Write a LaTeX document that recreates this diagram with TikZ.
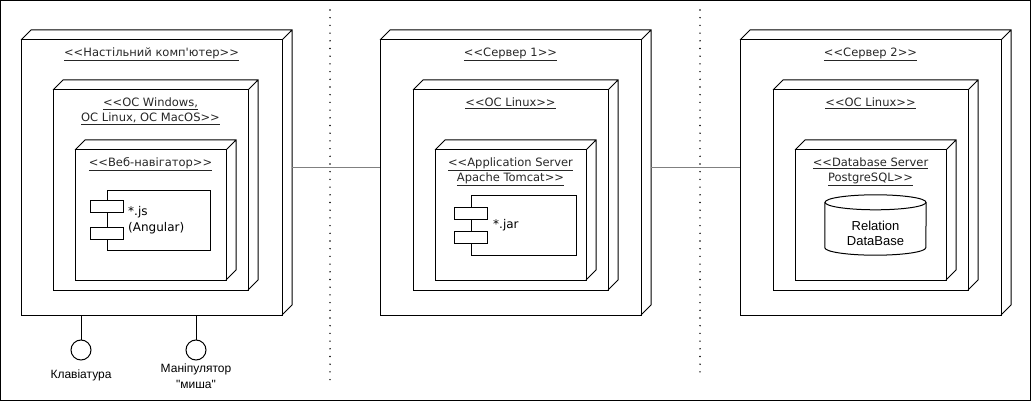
\documentclass[tikz,border=0pt]{standalone}
\usepackage{fontspec}
\setmainfont{Liberation Sans}[Ligatures=TeXOff]
\newfontfamily\stfont{DejaVu Sans}[Ligatures=TeXOff]
\usetikzlibrary{positioning,calc}

\tikzset{
  devbox/.style={draw, line width=1pt, inner sep=0pt, outer sep=0pt},
  title/.style={inner sep=0pt, align=center, text=black!85,
    font=\stfont\fontsize{11.5}{15}\selectfont},
  plain/.style={inner sep=0pt, align=left, font=\fontsize{12}{15.5}\selectfont},
  filetext/.style={inner sep=0pt, align=left, font=\stfont\fontsize{12}{16}\selectfont},
  link/.style={line width=1pt, draw=black!50},
  sepline/.style={line width=1.6pt, dash pattern=on 0pt off 7.7pt, line cap=round},
}
% back edges of a 3D node box
\newcommand{\depthlines}[1]{%
  \draw[line width=1pt] (#1.north west) -- ++(10,-10) -| ($(#1.south east)+(10,-10)$) -- (#1.south east)
    (#1.north east) -- ++(10,-10);}
\newcommand{\ster}[1]{\underline{#1}}

\begin{document}
\begin{tikzpicture}[x=1pt, y=-1pt]
  \useasboundingbox (0,0) rectangle (1031,401);
  \draw[line width=1pt] (0.5,0.5) rectangle (1030.5,400.5);

  % desktop
  \node[devbox, minimum width=261pt, minimum height=275pt] (pc) at (151.5,177.5) {};
  \depthlines{pc}
  \node[title, below=7.5pt of pc.north] (pctitle) {\ster{<<Настільний комп'ютер>>}};

  \node[devbox, minimum width=195pt, minimum height=200pt] (pcos) at (150.5,190) {};
  \depthlines{pcos}
  \node[title, below=7.5pt of pcos.north] (pcostitle) {\ster{<<OC Windows,}\\\ster{OC Linux, OC MacOS>>}};

  \node[devbox, minimum width=151pt, minimum height=130pt] (browser) at (150.5,215) {};
  \depthlines{browser}
  \node[title, below=7.5pt of browser.north] (browsertitle) {\ster{<<Веб-навігатор>>}};

  \node[devbox, minimum width=103pt, minimum height=60pt] (jsfile) at (158.5,220) {};
  \node[devbox, fill=white, minimum width=33pt, minimum height=12pt] (jsa) at ($(jsfile.north west)+(0,16)$) {};
  \node[devbox, fill=white, minimum width=33pt, minimum height=12pt] (jsb) at ($(jsfile.north west)+(0,43)$) {};
  \node[filetext, right=21pt of jsfile.west] (jstext) {*.js\\(Angular)};

  % keyboard and mouse
  \node[devbox, circle, minimum size=20pt] (kbd) at (81,350) {};
  \node[devbox, circle, minimum size=20pt] (mouse) at (196,350) {};
  \draw[line width=1pt] (kbd) -- (kbd |- pc.south);
  \draw[line width=1pt] (mouse) -- (mouse |- pc.south);
  \node[plain, below=10pt of kbd] (kbdtext) {Клавіатура};
  \node[plain, align=center, below=4pt of mouse] (mousetext) {Маніпулятор\\\textquotedbl миша\textquotedbl};

  % server 1
  \node[devbox, minimum width=261pt, minimum height=275pt] (srv1) at (510.5,177.5) {};
  \depthlines{srv1}
  \node[title, below=7.5pt of srv1.north] (srv1title) {\ster{<<Сервер 1>>}};

  \node[devbox, minimum width=195pt, minimum height=200pt] (srv1os) at (510.5,190) {};
  \depthlines{srv1os}
  \node[title, below=7.5pt of srv1os.north] (srv1ostitle) {\ster{<<OC Linux>>}};

  \node[devbox, minimum width=151pt, minimum height=130pt] (tomcat) at (510.5,215) {};
  \depthlines{tomcat}
  \node[title, below=7.5pt of tomcat.north] (tomcattitle) {\ster{<<Application Server}\\\ster{Apache Tomcat>>}};

  \node[devbox, minimum width=105pt, minimum height=60pt] (jarfile) at (523.5,225) {};
  \node[devbox, fill=white, minimum width=33pt, minimum height=12pt] (jara) at ($(jarfile.north west)+(0,18)$) {};
  \node[devbox, fill=white, minimum width=33pt, minimum height=12pt] (jarb) at ($(jarfile.north west)+(0,42)$) {};
  \node[filetext, right=22pt of jarfile.west] (jartext) {*.jar};

  % server 2
  \node[devbox, minimum width=261pt, minimum height=275pt] (srv2) at (870.5,177.5) {};
  \depthlines{srv2}
  \node[title, below=7.5pt of srv2.north] (srv2title) {\ster{<<Сервер 2>>}};

  \node[devbox, minimum width=195pt, minimum height=200pt] (srv2os) at (870.5,190) {};
  \depthlines{srv2os}
  \node[title, below=7.5pt of srv2os.north] (srv2ostitle) {\ster{<<OC Linux>>}};

  \node[devbox, minimum width=151pt, minimum height=130pt] (dbsrv) at (870.5,215) {};
  \depthlines{dbsrv}
  \node[title, below=7.5pt of dbsrv.north] (dbsrvtitle) {\ster{<<Database Server}\\\ster{PostgreSQL>>}};

  % database cylinder
  \node[inner sep=0pt, minimum width=101pt, minimum height=60pt] (rdb) at (875.5,225) {};
  \draw[line width=1pt] ($(rdb.north)+(0,7.5)$) ellipse [x radius=50.5, y radius=7.5];
  \draw[line width=1pt] ($(rdb.north west)+(0,7.5)$) -- ($(rdb.south west)+(0,-7.5)$)
    arc [start angle=180, end angle=0, x radius=50.5, y radius=7.5] -- ($(rdb.north east)+(0,7.5)$);
  \node[plain, align=center, font=\fontsize{13}{15}\selectfont] (rdbtext) at ($(rdb.center)+(0,8)$) {Relation\\DataBase};

  % links
  \draw[link] ($(pc.east)+(10,-10)$) -- ($(srv1.west)+(0,-10)$);
  \draw[link] ($(srv1.east)+(10,-10)$) -- ($(srv2.west)+(0,-10)$);

  % separators
  \draw[sepline] (330,10) -- (330,380);
  \draw[sepline] (700,10) -- (700,378);
\end{tikzpicture}
\end{document}
